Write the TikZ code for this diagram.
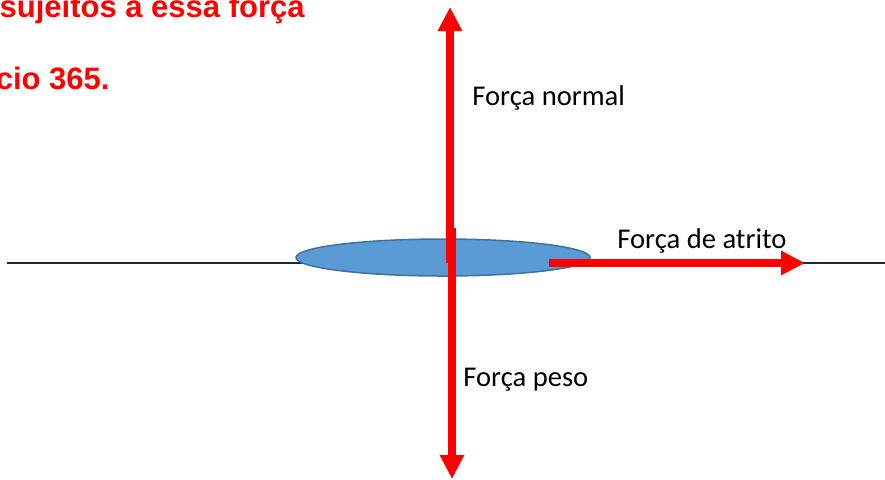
\documentclass[tikz,border=0pt]{standalone}
\usepackage{fontspec}
\setmainfont{Carlito}
\newfontfamily\titlefont{Liberation Sans}
\usepackage{tikz}
\usetikzlibrary{arrows.meta,positioning,shapes.geometric}

\definecolor{discblue}{RGB}{91,155,213}
\definecolor{discedge}{RGB}{65,113,156}
\definecolor{forcered}{RGB}{255,0,0}

\tikzset{
  force/.style={forcered,line width=4pt,-{Triangle[width=11.5pt,length=12pt]}},
  forcelabel/.style={inner sep=0pt,font=\fontsize{14.3}{17}\selectfont},
  headline/.style={inner sep=0pt,forcered,font=\titlefont\bfseries\fontsize{15.5}{18}\selectfont}
}

\begin{document}
\begin{tikzpicture}[x=0.5pt,y=-0.5pt]
\useasboundingbox (0,0) rectangle (885,479);

% Heading (cut off at the page edge)
\node[headline,anchor=base east] (line1) at (305,17) {sujeitos a essa força};
\node[headline,anchor=base east] (line2) at (110,89) {cio 365.};

% Ground
\coordinate (groundL) at (7,263);
\coordinate (groundR) at (885,263);
\draw[black!85,line width=0.75pt] (groundL) -- (groundR);

% Body
\node[ellipse,draw=discedge,fill=discblue,line width=0.75pt,
      minimum width=147pt,minimum height=18.5pt,inner sep=0pt] (disc) at (443,257.5) {};

% Force vectors
\coordinate (normalA) at (450,263);
\coordinate (normalB) at (450,7);
\coordinate (weightA) at (452,228);
\coordinate (weightB) at (452,479);
\coordinate (frictA) at (549,263);
\coordinate (frictB) at (805,263);
\draw[force] (normalA) -- (normalB);
\draw[force] (weightA) -- (weightB);
\draw[force] (frictA) -- (frictB);

% Labels
\node[forcelabel,anchor=base west] (normal) at (472,105) {Força normal};
\node[forcelabel,anchor=base west] (friction) at (617,248) {Força de atrito};
\node[forcelabel,anchor=base west] (weight) at (463,386) {Força peso};
\end{tikzpicture}
\end{document}
